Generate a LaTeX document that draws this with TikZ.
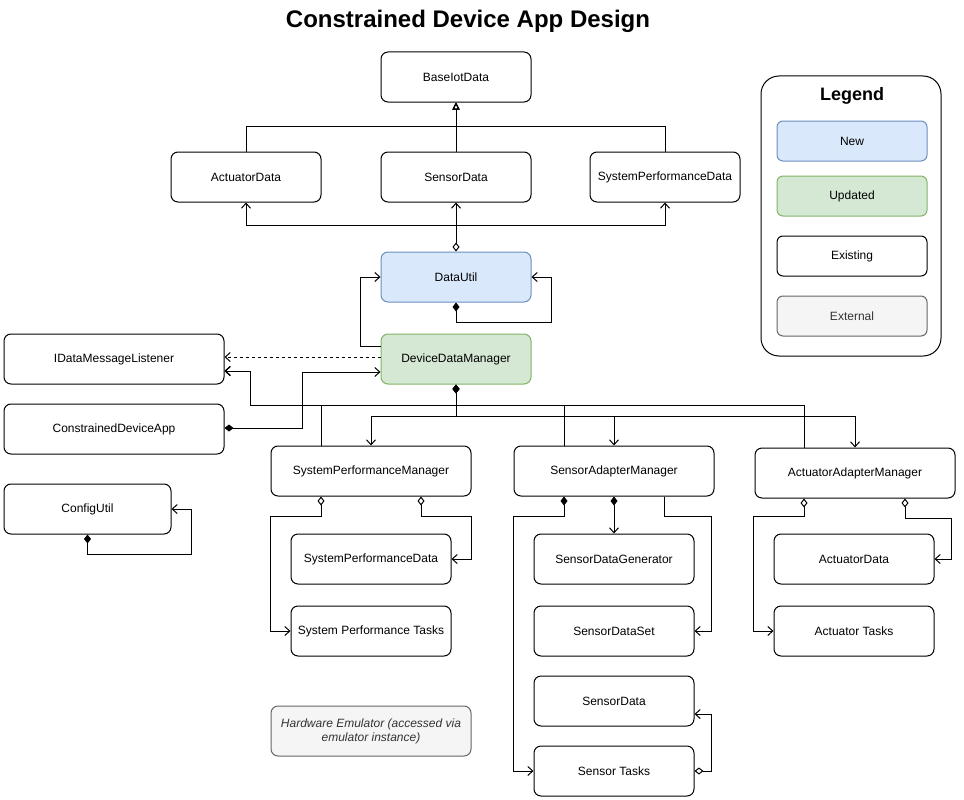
\documentclass[tikz,border=0pt]{standalone}
\usepackage{fontspec}
\setmainfont{Liberation Sans}
\usetikzlibrary{positioning,arrows.meta}

\definecolor{newfill}{HTML}{DAE8FC}
\definecolor{newline}{HTML}{6C8EBF}
\definecolor{updfill}{HTML}{D5E8D4}
\definecolor{updline}{HTML}{82B366}
\definecolor{extfill}{HTML}{F5F5F5}
\definecolor{extline}{HTML}{666666}
\definecolor{exttext}{HTML}{333333}

\tikzset{
  cls/.style={draw,rounded corners=7pt,line width=1pt,minimum width=150pt,
    minimum height=50pt,inner sep=0pt,align=center,font=\fontsize{12}{14}\selectfont},
  newcls/.style={cls,fill=newfill,draw=newline},
  updcls/.style={cls,fill=updfill,draw=updline},
  extcls/.style={cls,fill=extfill,draw=extline,text=exttext},
  legbox/.style={cls,minimum height=40pt,rounded corners=6pt},
  link/.style={line width=1pt,->},
  cmp/.style={line width=1pt,{Diamond[length=9pt,width=7pt]}->},
  agg/.style={line width=1pt,{Diamond[open,length=9pt,width=7pt]}->},
  inh/.style={line width=1pt,-{Triangle[open,length=7pt,width=7pt]}},
}

\begin{document}
\begin{tikzpicture}[x=1pt,y=-1pt,on grid,>={Straight Barb[length=5pt,width=9pt]}]
  \useasboundingbox (0,0) rectangle (964,800);

  \node[font=\fontsize{24}{28}\selectfont\bfseries] (title) at (468,21) {Constrained Device App Design};

  % data classes
  \node[cls] (BaseIotData) at (456,77) {BaseIotData};
  \node[cls] (SensorData) [below=100pt of BaseIotData] {SensorData};
  \node[cls] (ActuatorData) [left=210pt of SensorData] {ActuatorData};
  \node[cls] (SysPerfData) [right=209pt of SensorData] {SystemPerformanceData};

  \node[newcls] (DataUtil) [below=100pt of SensorData] {DataUtil};
  \node[updcls] (DeviceDataManager) [below=82pt of DataUtil] {DeviceDataManager};

  \node[cls,minimum width=220pt] (IDataMessageListener) at (114,359) {IDataMessageListener};
  \node[cls,minimum width=220pt] (ConstrainedDeviceApp) [below=70pt of IDataMessageListener] {ConstrainedDeviceApp};
  \node[cls,minimum width=167pt] (ConfigUtil) at (87.5,509) {ConfigUtil};

  % managers
  \node[cls,minimum width=200pt] (SysPerfManager) at (371,471) {SystemPerformanceManager};
  \node[cls,minimum width=200pt] (SensorAdapterManager) [right=243pt of SysPerfManager] {SensorAdapterManager};
  \node[cls,minimum width=200pt] (ActuatorAdapterManager) at (855,473) {ActuatorAdapterManager};

  \node[cls,minimum width=160pt] (SysPerfData2) [below=88pt of SysPerfManager] {SystemPerformanceData};
  \node[cls,minimum width=160pt] (SysPerfTasks) [below=72pt of SysPerfData2] {System Performance Tasks};
  \node[extcls,minimum width=200pt,font=\fontsize{12}{14}\selectfont\itshape] (HwEmulator) at (371,731) {Hardware Emulator (accessed via\\emulator instance)};

  \node[cls,minimum width=160pt] (SensorDataGen) [below=88pt of SensorAdapterManager] {SensorDataGenerator};
  \node[cls,minimum width=160pt] (SensorDataSet) [below=72pt of SensorDataGen] {SensorDataSet};
  \node[cls,minimum width=160pt] (SensorData2) [below=70pt of SensorDataSet] {SensorData};
  \node[cls,minimum width=160pt] (SensorTasks) [below=70pt of SensorData2] {Sensor Tasks};

  \node[cls,minimum width=160pt] (ActuatorData2) at (854,559) {ActuatorData};
  \node[cls,minimum width=160pt] (ActuatorTasks) [below=72pt of ActuatorData2] {Actuator Tasks};

  % legend
  \node[draw,line width=1pt,rounded corners=18pt,minimum width=180pt,minimum height=280pt] (Legend) at (851,216) {};
  \node[font=\fontsize{18}{21}\selectfont\bfseries] (LegendTitle) at (852,96) {Legend};
  \node[legbox,fill=newfill,draw=newline] (LegNew) at (852,141) {New};
  \node[legbox,fill=updfill,draw=updline] (LegUpdated) [below=55pt of LegNew] {Updated};
  \node[legbox] (LegExisting) [below=60pt of LegUpdated] {Existing};
  \node[legbox,fill=extfill,draw=extline,text=exttext] (LegExternal) [below=60pt of LegExisting] {External};

  % generalization
  \draw[inh] (SensorData) -- (BaseIotData);
  \draw[inh] (ActuatorData.north) -- ++(0,-25) -| (BaseIotData.south);
  \draw[inh] (SysPerfData.north) -- ++(0,-25) -| (BaseIotData.south);

  % DataUtil uses data classes
  \draw[agg] (DataUtil.north) -- (SensorData.south);
  \draw[link] ([yshift=26pt]DataUtil.north) -| (ActuatorData.south);
  \draw[link] ([yshift=26pt]DataUtil.north) -| (SysPerfData.south);
  \draw[cmp] (DataUtil.south) -- ++(0,20) -| ([xshift=20pt]DataUtil.east) -- (DataUtil.east);

  % DeviceDataManager
  \draw[link] ([yshift=13pt]DeviceDataManager.west) -- ++(-20,0) |- (DataUtil.west);
  \draw[link,dashed] ([yshift=2pt]DeviceDataManager.west) -- ([yshift=2pt]IDataMessageListener.east);
  \draw[cmp] ([yshift=1pt]ConstrainedDeviceApp.east) -- ++(78,0) |- ([yshift=-13pt]DeviceDataManager.west);
  \draw[cmp] (DeviceDataManager.south) -- ++(0,32) -| (SysPerfManager.north);
  \draw[cmp] (DeviceDataManager.south) -- ++(0,32) -| (SensorAdapterManager.north);
  \draw[cmp] (DeviceDataManager.south) -- ++(0,32) -| (ActuatorAdapterManager.north);

  % managers to listener
  \draw[link] ([xshift=-50pt]SysPerfManager.north) -- ++(0,-40) -| ([xshift=26pt,yshift=-12pt]IDataMessageListener.east) -- ([yshift=-12pt]IDataMessageListener.east);
  \draw[link] ([xshift=-50pt]SensorAdapterManager.north) -- ++(0,-40) -| ([xshift=26pt,yshift=-12pt]IDataMessageListener.east) -- ([yshift=-12pt]IDataMessageListener.east);
  \draw[link] ([xshift=-51pt]ActuatorAdapterManager.north) -- ++(0,-42) -| ([xshift=26pt,yshift=-12pt]IDataMessageListener.east) -- ([yshift=-12pt]IDataMessageListener.east);

  % SystemPerformanceManager
  \draw[agg] ([xshift=-50pt]SysPerfManager.south) -- ++(0,20) -| ([xshift=-20pt]SysPerfTasks.west) -- (SysPerfTasks.west);
  \draw[agg] ([xshift=50pt]SysPerfManager.south) -- ++(0,20) -| ([xshift=20pt]SysPerfData2.east) -- (SysPerfData2.east);

  % SensorAdapterManager
  \draw[cmp] ([xshift=-50pt]SensorAdapterManager.south) -- ++(0,20) -| ([xshift=-20pt]SensorTasks.west) -- (SensorTasks.west);
  \draw[cmp] (SensorAdapterManager.south) -- (SensorDataGen.north);
  \draw[link] ([xshift=50pt]SensorAdapterManager.south) -- ++(0,20) -| ([xshift=17pt]SensorDataSet.east) -- (SensorDataSet.east);
  \draw[agg] (SensorTasks.east) -- ++(17,0) |- ([yshift=-13pt]SensorData2.east);

  % ActuatorAdapterManager
  \draw[agg] ([xshift=-51pt]ActuatorAdapterManager.south) -- ++(0,18) -| ([xshift=-20pt]ActuatorTasks.west) -- (ActuatorTasks.west);
  \draw[agg] ([xshift=50pt]ActuatorAdapterManager.south) -- ++(0,20) -| ([xshift=17pt]ActuatorData2.east) -- (ActuatorData2.east);

  % ConfigUtil
  \draw[cmp] (ConfigUtil.south) -- ++(0,20) -| ([xshift=20pt]ConfigUtil.east) -- (ConfigUtil.east);
\end{tikzpicture}
\end{document}
